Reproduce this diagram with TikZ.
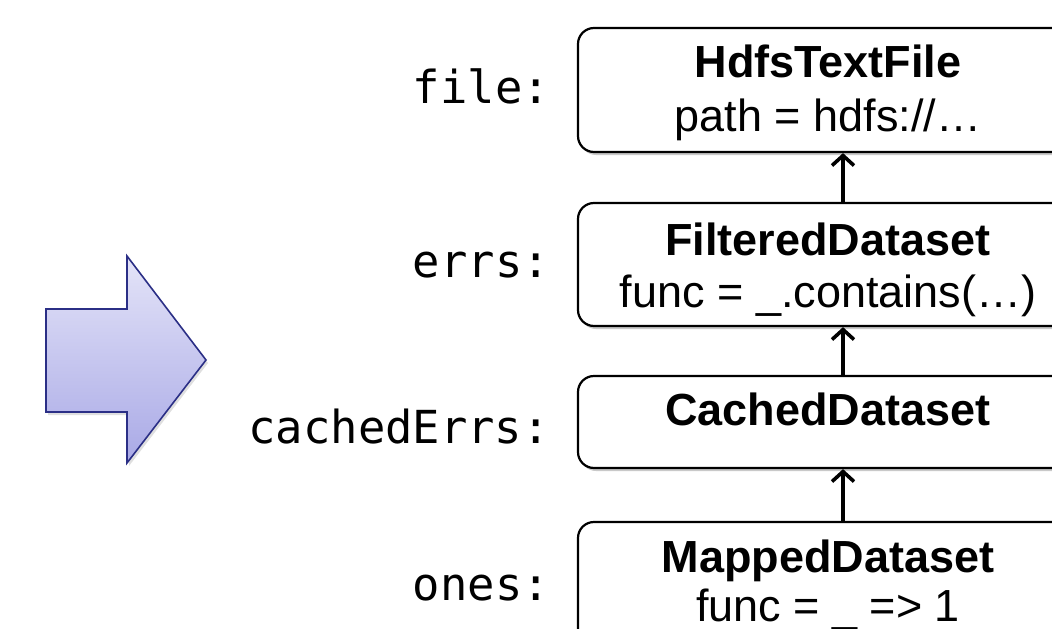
\documentclass[tikz,border=0pt]{standalone}
\usepackage{fontspec}
\setmainfont{Liberation Sans}
\newfontfamily\codefont{DejaVu Sans Mono}
\usetikzlibrary{arrows.meta,shadows}
\definecolor{arrowedge}{HTML}{2B2F86}
\definecolor{arrowtop}{HTML}{E4E4F8}
\definecolor{arrowbot}{HTML}{A9A9E6}
\begin{document}
\begin{tikzpicture}[x=1pt,y=-1pt,
  rdd/.style={draw=black, line width=2.2pt, rounded corners=16pt, fill=white,
    minimum width=500pt, inner sep=0pt,
    drop shadow={shadow xshift=2pt,shadow yshift=-3pt,opacity=0.3,fill=black!70}},
  title/.style={anchor=base, font=\fontsize{45}{54}\selectfont\bfseries, inner sep=0pt},
  attr/.style={anchor=base, font=\fontsize{45}{54}\selectfont, inner sep=0pt},
  var/.style={anchor=base east, font=\codefont\fontsize{45.5}{52}\selectfont, inner sep=0pt},
  dep/.style={line width=3.6pt, -{Straight Barb[length=10pt,width=22pt]}}]
\useasboundingbox (0,0) rectangle (1052,629);
% big arrow
\shade[top color=arrowtop, bottom color=arrowbot, draw=arrowedge, line width=1.6pt,
  drop shadow={shadow xshift=2pt,shadow yshift=-3pt,opacity=0.25}]
  (46,309) -- (127,309) -- (127,256) -- (206,360) -- (127,463) -- (127,412) -- (46,412) -- cycle;
% boxes
\node[rdd, minimum height=124pt] (b1) at (828,90) {};
\node[rdd, minimum height=123pt] (b2) at (828,264.5) {};
\node[rdd, minimum height=92pt] (b3) at (828,422) {};
\node[rdd, minimum height=126pt] (b4) at (828,585) {};
% box texts
\node[title] (t1) at (828,77) {HdfsTextFile};
\node[attr] (a1) at (828,131) {path = hdfs://…};
\node[title] (t2) at (828,255) {FilteredDataset};
\node[attr] (a2) at (828,307) {func = \_.contains(…)};
\node[title] (t3) at (828,425) {CachedDataset};
\node[title] (t4) at (828,572) {MappedDataset};
\node[attr] (a4) at (828,621) {func = \_ => 1};
% labels
\node[var] (v1) at (550,103) {file:};
\node[var] (v2) at (550,277) {errs:};
\node[var] (v3) at (550,443) {cachedErrs:};
\node[var] (v4) at (550,600) {ones:};
% dependencies
\coordinate (ax) at (843,0);
\draw[dep] (b2.north -| ax) -- (b1.south -| ax);
\draw[dep] (b3.north -| ax) -- (b2.south -| ax);
\draw[dep] (b4.north -| ax) -- (b3.south -| ax);
\end{tikzpicture}
\end{document}
